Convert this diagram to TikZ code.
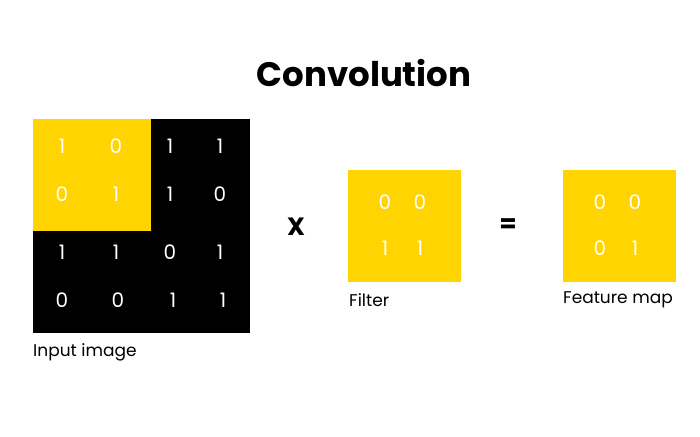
\documentclass[tikz,border=0pt]{standalone}
\usepackage{fontspec}
\setmainfont{Poppins}
\definecolor{myyellow}{HTML}{FFD400}
\begin{document}
\begin{tikzpicture}[x=1pt,y=-1pt,
  digit/.style={text=white,font=\fontsize{20}{20}\selectfont,inner sep=0pt,anchor=center},
  lbl/.style={text=black,font=\fontsize{17}{17}\selectfont,inner sep=0pt,anchor=west},
  op/.style={text=black,font=\bfseries\fontsize{25}{25}\selectfont,inner sep=0pt,anchor=center}]
\useasboundingbox (0,0) rectangle (700,436);
\fill[white] (0,0) rectangle (700,436);
\node[font=\bfseries\fontsize{34}{34}\selectfont,anchor=center] (title) at (364,73) {Convolution};
% input image
\fill[black] (33,119) rectangle (250,333);
\fill[myyellow] (33,119) rectangle (151,231);
\node[digit] (a11) at (62,146) {1};
\node[digit] (a12) at (116,146) {0};
\node[digit] (a13) at (170,146) {1};
\node[digit] (a14) at (220,146) {1};
\node[digit] (a21) at (62,194) {0};
\node[digit] (a22) at (116,194) {1};
\node[digit] (a23) at (170,194) {1};
\node[digit] (a24) at (220,194) {0};
\node[digit] (a31) at (62,252) {1};
\node[digit] (a32) at (116,252) {1};
\node[digit] (a33) at (170,252) {0};
\node[digit] (a34) at (220,252) {1};
\node[digit] (a41) at (62,300) {0};
\node[digit] (a42) at (118,300) {0};
\node[digit] (a43) at (173,300) {1};
\node[digit] (a44) at (223,300) {1};
\node[lbl] (inlbl) at (33,352) {Input image};
% operator X
\node[op] (times) at (296,227) {X};
% filter
\fill[myyellow] (348,170) rectangle (461,282);
\node[digit] (f11) at (385,202) {0};
\node[digit] (f12) at (420,202) {0};
\node[digit] (f21) at (385,248) {1};
\node[digit] (f22) at (420,248) {1};
\node[lbl] (flbl) at (349,300) {Filter};
% equals
\node[op] (eq) at (508,226) {=};
% feature map
\fill[myyellow] (563,170) rectangle (676,282);
\node[digit] (m11) at (600,202) {0};
\node[digit] (m12) at (635,202) {0};
\node[digit] (m21) at (600,248) {0};
\node[digit] (m22) at (635,248) {1};
\node[lbl] (mlbl) at (563,300) {Feature map};
\end{tikzpicture}
\end{document}
